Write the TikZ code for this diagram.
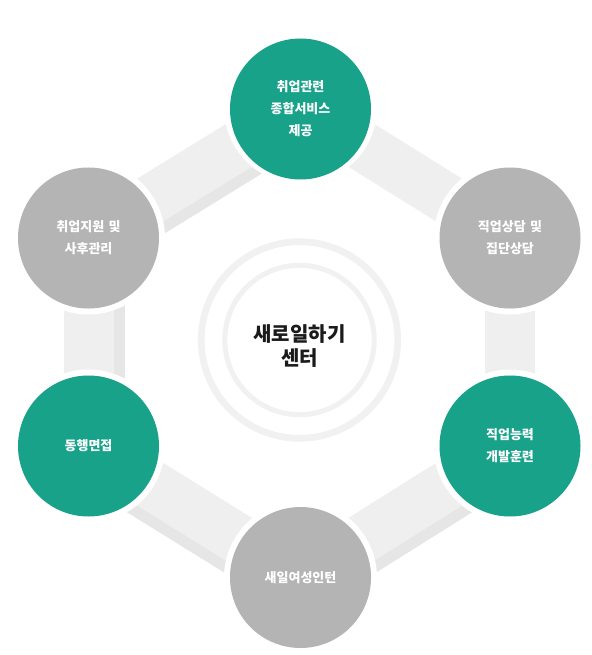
\documentclass[tikz,border=0pt]{standalone}
\usepackage{fontspec}
\setmainfont{Noto Sans CJK KR}
\usetikzlibrary{calc}
\definecolor{teal1}{HTML}{18A28A}
\definecolor{grey1}{HTML}{B4B4B4}
\definecolor{bandlight}{HTML}{EFEFEF}
\definecolor{banddark}{HTML}{E6E6E6}
\definecolor{ringc}{HTML}{F1F1F1}
\definecolor{centertext}{HTML}{1A1A1A}
\tikzset{
  bandmain/.style={draw=bandlight, line width=50pt},
  bandshade/.style={draw=banddark, line width=11pt},
  stagebox/.style={circle, minimum size=141pt, inner sep=0pt, text=white,
    font=\bfseries\fontsize{13pt}{22pt}\selectfont, align=center, text width=120pt},
  stagering/.style={draw=white, line width=6pt},
  greenstage/.style={stagebox, fill=teal1},
  greystage/.style={stagebox, fill=grey1},
}
\begin{document}
\begin{tikzpicture}[x=1pt,y=-1pt]
\useasboundingbox[fill=white] (0,0) rectangle (591,655);
% centres
\coordinate (cT) at (300.5,107.5);
\coordinate (cRU) at (510,238);
\coordinate (cRL) at (510,446);
\coordinate (cB) at (300.5,577.5);
\coordinate (cLL) at (88.5,446);
\coordinate (cLU) at (88.5,238);
\coordinate (cC) at (299.5,340);
% bands
\draw[bandmain] (cT) -- (cRU);
\draw[bandmain] (cRU) -- (cRL);
\draw[bandmain] (cRL) -- (cB);
\draw[bandmain] (cB) -- (cLL);
\draw[bandmain] (cLL) -- (cLU);
\draw[bandmain] (cLU) -- (cT);
% shade stripes
\draw[bandshade] ($(cT)!30.5pt!90:(cLU)$) -- ($(cLU)!30.5pt!-90:(cT)$);
\draw[bandshade] ($(cLU)!30.5pt!90:(cLL)$) -- ($(cLL)!30.5pt!-90:(cLU)$);
\draw[bandshade] ($(cLL)!30.5pt!-90:(cB)$) -- ($(cB)!30.5pt!90:(cLL)$);
\draw[bandshade] ($(cB)!30.5pt!-90:(cRL)$) -- ($(cRL)!30.5pt!90:(cB)$);
% centre rings
\draw[ringc, line width=6.7pt] (cC) circle (98.3pt);
\draw[ringc, line width=5pt] (cC) circle (74.7pt);
% white halos
\foreach \c in {cT,cRU,cRL,cB,cLL,cLU} {\draw[stagering] (\c) circle (73.5pt);}
% stages
\node[greenstage] (top) at ($(cT)+(0,1.5)$) {취업관련\\종합서비스\\제공};
\node[greystage] (ru) at (cRU) {직업상담 및\\집단상담};
\node[greenstage] (rl) at (cRL) {직업능력\\개발훈련};
\node[greystage] (bot) at (cB) {새일여성인턴};
\node[greenstage] (ll) at (cLL) {동행면접};
\node[greystage] (lu) at (cLU) {취업지원 및\\사후관리};
\node[font=\bfseries\fontsize{20pt}{24pt}\selectfont, text=centertext, align=center] (centre) at ($(cC)+(0,6.5)$) {새로일하기\\센터};
\end{tikzpicture}
\end{document}
